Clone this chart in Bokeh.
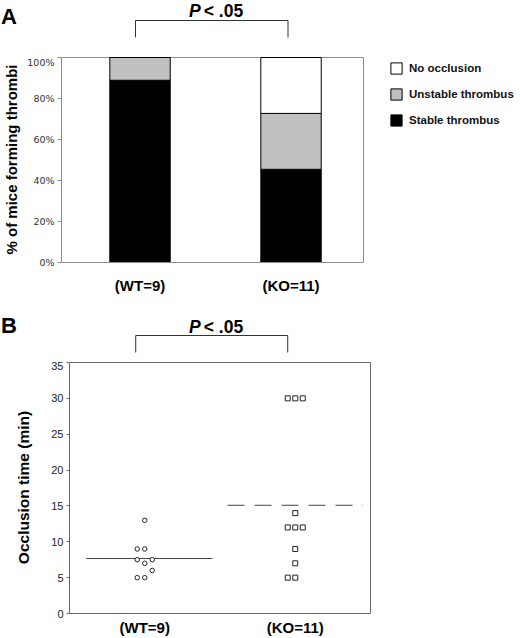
import numpy as np
from bokeh.plotting import figure
from bokeh.layouts import column
from bokeh.models import (ColumnDataSource, Range1d, FixedTicker, NumeralTickFormatter,
                          Legend, LegendItem)
from bokeh.embed import file_html
from bokeh.resources import INLINE
from bokeh.core.properties import value

# ---------------- data ----------------
groups = ["(WT=9)", "(KO=11)"]
group_n = [9, 11]
stable_counts = [8, 5]
unstable_counts = [1, 3]
no_occlusion_counts = [0, 3]
pct_ticks = [0, 0.2, 0.4, 0.6, 0.8, 1.0]

wt_times = [13, 9, 9, 7.5, 7.5, 7, 6, 5, 5]
wt_jitter = [0, -0.05, 0, -0.05, 0.05, 0, 0.05, -0.05, 0]
ko_times = [30, 30, 30, 14, 12, 12, 12, 9, 7, 5, 5]
ko_jitter = [-0.05, 0, 0.05, 0, -0.05, 0, 0.05, 0, 0, -0.05, 0]
time_ticks = [0, 5, 10, 15, 20, 25, 30, 35]
p_label = ("P", "< .05")

FONT = "Liberation Sans"
W = 520
xpos = [1, 2]
labels = {x: g for x, g in zip(xpos, groups)}


def style_common(p):
    p.xgrid.grid_line_color = None
    p.ygrid.grid_line_color = None
    p.outline_line_color = None
    p.background_fill_color = "white"
    p.border_fill_color = "white"


def header(height, x0, ppu, frame_left, letter, letter_base, br, br_top, br_bot, p_base):
    h = figure(width=W, height=height, title=None, toolbar_location=None, output_backend="svg",
               x_axis_type=None, y_axis_type=None, frame_align=False,
               x_range=Range1d(x0 - frame_left / ppu, x0 + (W - frame_left) / ppu),
               y_range=Range1d(height, 0),
               min_border_left=0, min_border_right=0, min_border_top=0, min_border_bottom=0)
    style_common(h)
    xl = x0 - frame_left / ppu + 8.5 / ppu
    h.text(x=[xl], y=[letter_base], text=[letter], text_font=value(FONT), text_font_style="bold",
           text_font_size="22px", text_align="center", text_baseline="alphabetic", text_color="black")
    h.line(x=[br[0], br[0], br[1], br[1]], y=[br_bot, br_top, br_top, br_bot],
           line_color="#333333", line_width=1)
    xc = (br[0] + br[1]) / 2
    h.text(x=[xc], y=[p_base], text=[p_label[0]], text_font=value(FONT),
           text_font_style="bold italic", text_font_size="17.5px", text_align="right",
           text_baseline="alphabetic", x_offset=-11, text_color="black")
    h.text(x=[xc], y=[p_base], text=[p_label[1]], text_font=value(FONT), text_font_style="bold",
           text_font_size="17.5px", text_align="left", text_baseline="alphabetic",
           x_offset=-8, text_color="black")
    return h


# ---------------- panel A ----------------
ppuA, leftA, x0A = 151.0, 61, 0.48
hdrA = header(56, x0A, ppuA, leftA, "A", 15.5, [xpos[0] - 0.03, xpos[1] - 0.02], 20, 37, 10)

pA = figure(width=W, height=244, title=None, toolbar_location=None, output_backend="svg",
            frame_align=False,
            x_range=Range1d(x0A, x0A + (W - leftA) / ppuA), y_range=Range1d(0, 206 / 205.0),
            min_border_left=leftA, min_border_right=0, min_border_top=0, min_border_bottom=38)
style_common(pA)

n = np.array(group_n, dtype=float)
srcA = ColumnDataSource(dict(
    x=xpos,
    stable=np.array(stable_counts) / n,
    unstable=np.array(unstable_counts) / n,
    none=np.array(no_occlusion_counts) / n,
))

frameA = "#8c8c8c"
pA.line(x=[x0A, 2.48, 2.48], y=[1, 1, 0], line_color=frameA, line_width=1)

rs = pA.vbar_stack(["stable", "unstable", "none"], x="x", width=0.4, source=srcA,
                   fill_color=["black", "#c0c0c0", "white"], line_color="black", line_width=1)

yA = pA.yaxis[0]
yA.bounds = (0, 1)
yA.ticker = FixedTicker(ticks=pct_ticks)
yA.formatter = NumeralTickFormatter(format="0%")
yA.major_label_text_font = "DejaVu Sans"
yA.major_label_text_font_size = "9.5px"
yA.major_label_text_color = "#333333"
yA.major_tick_out = 4
yA.major_tick_in = 0
yA.minor_tick_out = 0
yA.minor_tick_in = 0
yA.major_label_standoff = 3
yA.axis_line_color = frameA
yA.major_tick_line_color = frameA
yA.axis_label = "% of mice forming thrombi"
yA.axis_label_text_font = FONT
yA.axis_label_text_font_style = "bold"
yA.axis_label_text_font_size = "15px"
yA.axis_label_text_color = "black"
yA.axis_label_standoff = 4

xA = pA.xaxis[0]
xA.bounds = (x0A, 2.48)
xA.ticker = FixedTicker(ticks=xpos)
xA.major_label_overrides = labels
xA.major_label_text_font = FONT
xA.major_label_text_font_style = "bold"
xA.major_label_text_font_size = "15px"
xA.major_label_text_color = "black"
xA.major_tick_out = 0
xA.major_tick_in = 0
xA.minor_tick_out = 0
xA.minor_tick_in = 0
xA.major_label_standoff = 14
xA.axis_line_color = frameA

legA = Legend(items=[LegendItem(label="No occlusion", renderers=[rs[2]]),
                     LegendItem(label="Unstable thrombus", renderers=[rs[1]]),
                     LegendItem(label="Stable thrombus", renderers=[rs[0]])],
              location=(328, 135), orientation="vertical", glyph_width=14, glyph_height=14,
              label_height=14, spacing=12, padding=0, margin=0, label_standoff=6,
              border_line_color=None, background_fill_alpha=0,
              label_text_font=FONT, label_text_font_style="bold", label_text_font_size="11.5px",
              label_text_color="#111111")
pA.add_layout(legA)

# ---------------- panel B ----------------
ppuB, leftB, x0B = 150.5, 69, 0.5
pyB = 251 / 35.0
hdrB = header(61, x0B, ppuB, leftB, "B", 24.5, [xpos[0] - 0.06, xpos[1] - 0.05], 35, 52, 26.5)

pB = figure(width=W, height=277, title=None, toolbar_location=None, output_backend="svg",
            frame_align=False,
            x_range=Range1d(x0B, x0B + (W - leftB) / ppuB), y_range=Range1d(0, 252 / pyB),
            min_border_left=leftB, min_border_right=0, min_border_top=0, min_border_bottom=25)
style_common(pB)

frameB = "#666666"
pB.line(x=[x0B, 2.5, 2.5], y=[35, 35, 0], line_color=frameB, line_width=1)

wt_mean = float(np.mean(wt_times))
ko_mean = float(np.mean(ko_times))
pB.line(x=[xpos[0] - 0.39, xpos[0] + 0.45], y=[wt_mean, wt_mean], line_color="#444444", line_width=1)
pB.line(x=[xpos[1] - 0.45, xpos[1] + 0.45], y=[ko_mean, ko_mean], line_color="#444444",
        line_width=1, line_dash="17 10")

pB.scatter(x=np.add(xpos[0], wt_jitter), y=wt_times, marker="circle", size=4.5,
           fill_color="white", line_color="#222222", line_width=1)
pB.scatter(x=np.add(xpos[1], ko_jitter), y=ko_times, marker="square", size=5,
           fill_color="white", line_color="#222222", line_width=1)

yB = pB.yaxis[0]
yB.bounds = (0, 35)
yB.ticker = FixedTicker(ticks=time_ticks)
yB.major_label_text_font = FONT
yB.major_label_text_font_size = "11px"
yB.major_label_text_color = "#222222"
yB.major_tick_out = 3
yB.major_tick_in = 0
yB.minor_tick_out = 0
yB.minor_tick_in = 0
yB.major_label_standoff = 3
yB.axis_line_color = frameB
yB.major_tick_line_color = frameB
yB.axis_label = "Occlusion time (min)"
yB.axis_label_text_font = FONT
yB.axis_label_text_font_style = "bold"
yB.axis_label_text_font_size = "15.5px"
yB.axis_label_text_color = "black"
yB.axis_label_standoff = 16

xB = pB.xaxis[0]
xB.bounds = (x0B, 2.5)
xB.ticker = FixedTicker(ticks=xpos)
xB.major_label_overrides = labels
xB.major_label_text_font = FONT
xB.major_label_text_font_style = "bold"
xB.major_label_text_font_size = "15px"
xB.major_label_text_color = "black"
xB.major_tick_out = 0
xB.major_tick_in = 0
xB.minor_tick_out = 0
xB.minor_tick_in = 0
xB.major_label_standoff = 5
xB.axis_line_color = frameB

layout = column(hdrA, pA, hdrB, pB, spacing=0)
open("out.html", "w").write(file_html(layout, INLINE))
